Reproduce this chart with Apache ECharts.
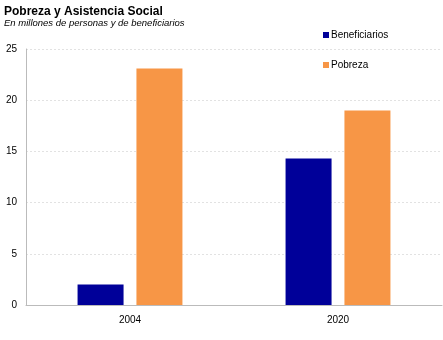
<!DOCTYPE html>
<html><head><meta charset="utf-8">
<script src="https://cdn.jsdelivr.net/npm/echarts@6/dist/echarts.min.js"></script>
<style>html,body{margin:0;padding:0;background:#fff}#c{width:443px;height:340px}</style>
</head><body><div id="c"></div>
<script>
var categories = ['2004', '2020'];
var beneficiarios = [2.0, 14.3];
var pobreza = [23.1, 19.0];
var yTicks = [0, 5, 10, 15, 20, 25];

var chart = echarts.init(document.getElementById('c'), null, {renderer: 'canvas'});
chart.setOption({
  animation: false,
  textStyle: {fontFamily: 'Liberation Sans, Arial, sans-serif'},
  title: {
    text: 'Pobreza y Asistencia Social',
    subtext: 'En millones de personas y de beneficiarios',
    left: -1, top: 1, itemGap: 0,
    textStyle: {fontSize: 12, fontWeight: 'bold', color: '#000'},
    subtextStyle: {fontSize: 9.5, fontStyle: 'italic', color: '#000'}
  },
  legend: {
    orient: 'vertical', left: 318, top: 25, itemGap: 20,
    itemWidth: 6, itemHeight: 6, icon: 'rect',
    textStyle: {fontSize: 10, color: '#000', padding: [0, 0, 0, -3]},
    data: ['Beneficiarios', 'Pobreza']
  },
  grid: {left: 26, right: 1, top: 49, bottom: 35, containLabel: false},
  xAxis: {
    type: 'category', data: categories,
    axisLine: {lineStyle: {color: '#bbbbbb', width: 1}},
    axisTick: {show: false},
    axisLabel: {fontSize: 10, color: '#000', margin: 10}
  },
  yAxis: {
    type: 'value', min: 0, max: 25, interval: 5,
    axisLine: {show: true, lineStyle: {color: '#bbbbbb', width: 1}},
    axisTick: {show: false},
    axisLabel: {fontSize: 10, color: '#000', margin: 9,
      formatter: function (v) { return yTicks.indexOf(v) >= 0 ? String(v) : ''; }},
    splitLine: {lineStyle: {color: '#e2e2e2', type: [2, 2], width: 1}}
  },
  series: [
    {name: 'Beneficiarios', type: 'bar', data: beneficiarios, barWidth: 46, barGap: '28%',
     itemStyle: {color: '#000099'}},
    {name: 'Pobreza', type: 'bar', data: pobreza, barWidth: 46,
     itemStyle: {color: '#f79646'}}
  ]
});
</script></body></html>
